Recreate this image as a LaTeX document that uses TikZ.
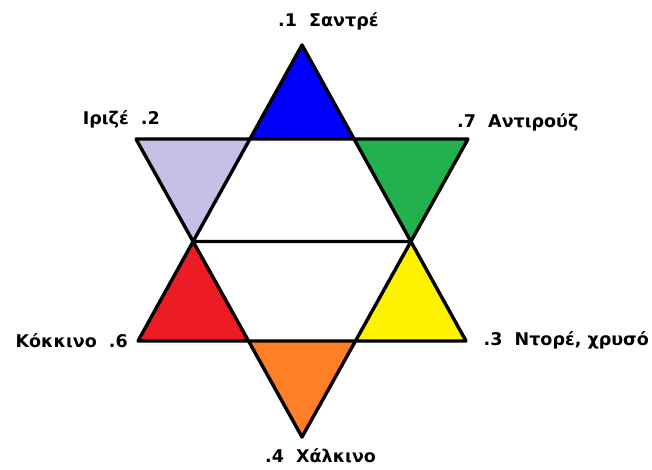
\documentclass[tikz,border=0pt]{standalone}
\usepackage{fontspec}
\setmainfont{DejaVu Sans}
\usetikzlibrary{positioning,calc}

\definecolor{starblue}{RGB}{0,0,255}
\definecolor{starlilac}{RGB}{200,191,231}
\definecolor{stargreen}{RGB}{34,177,76}
\definecolor{starred}{RGB}{237,28,36}
\definecolor{staryellow}{RGB}{255,242,0}
\definecolor{starorange}{RGB}{255,127,39}

\begin{document}
\begin{tikzpicture}[
    x=1pt, y=-1pt,
    edge/.style={draw=black, line width=3.4pt, line join=round},
    colour/.style={font=\fontsize{17.5}{20}\selectfont\bfseries, inner sep=0pt}
]
\useasboundingbox (0,0) rectangle (652,470);

% Outer vertices of the two triangles
\coordinate (top) at (302,45);
\coordinate (ll) at (138,341);
\coordinate (lr) at (466,341);
\coordinate (ul) at (136,139);
\coordinate (ur) at (468,139);
\coordinate (bot) at (302,437);

% Inner hexagon
\coordinate (ha) at (intersection of top--ll and ul--ur);
\coordinate (hb) at (intersection of top--lr and ul--ur);
\coordinate (hc) at (intersection of top--ll and ul--bot);
\coordinate (hd) at (intersection of top--lr and ur--bot);
\coordinate (he) at (intersection of ul--bot and ll--lr);
\coordinate (hf) at (intersection of ur--bot and ll--lr);

% Coloured points
\fill[starblue] (top) -- (ha) -- (hb) -- cycle;
\fill[starlilac] (ul) -- (ha) -- (hc) -- cycle;
\fill[stargreen] (ur) -- (hb) -- (hd) -- cycle;
\fill[starred] (ll) -- (hc) -- (he) -- cycle;
\fill[staryellow] (lr) -- (hd) -- (hf) -- cycle;
\fill[starorange] (bot) -- (he) -- (hf) -- cycle;

% Outlines
\draw[edge] (top) -- (ll) -- (lr) -- cycle;
\draw[edge] (ul) -- (ur) -- (bot) -- cycle;
\draw[edge] (hc) -- (hd);

% Labels
\node[colour, anchor=base west] (c1) at (278,27) {.1\ \ Σαντρέ};
\node[colour, anchor=base east] (c2) at (160,125) {Ιριζέ\ \ .2};
\node[colour, anchor=base west] (c7) at (457,128) {.7\ \ Αντιρούζ};
\node[colour, anchor=base east] (c6) at (128,347) {Κόκκινο\ \ .6};
\node[colour, anchor=base east] (c3) at (649,345) {.3\ \ Ντορέ, χρυσό};
\node[colour, anchor=base west] (c4) at (265,462) {.4\ \ Χάλκινο};

\end{tikzpicture}
\end{document}
